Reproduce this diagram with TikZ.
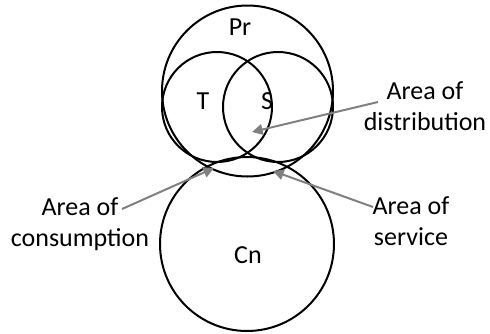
\documentclass[tikz,border=0pt]{standalone}
\usepackage{fontspec}
\setmainfont{Carlito}
\usetikzlibrary{arrows.meta}
\begin{document}
\begin{tikzpicture}[x=0.75pt,y=-0.75pt,
  ring/.style={circle,draw=black,line width=1.5pt,inner sep=0pt},
  lbl/.style={font=\fontsize{19.5pt}{23.4pt}\selectfont,inner sep=0pt},
  callout/.style={align=center,font=\fontsize{19.5pt}{23.4pt}\selectfont,inner sep=0pt},
  pointer/.style={draw=gray,line width=1.5pt,-{Triangle[length=8pt,width=8pt]},color=gray}]
\useasboundingbox (0,0) rectangle (490,333);
\node[ring,minimum size=128.25pt] (pr) at (247.5,91) {};
\node[ring,minimum size=82.5pt] (t) at (217,107) {};
\node[ring,minimum size=82.5pt] (s) at (278,107) {};
\node[ring,minimum size=130.5pt] (cn) at (247,244) {};
\node[lbl] (prl) at (240,27) {Pr};
\node[lbl] (tl) at (203,101) {T};
\node[lbl] (sl) at (267,101) {S};
\node[lbl] (cnl) at (248,255) {Cn};
\node[callout] (dist) at (425,106) {Area of\\distribution};
\node[callout] (serv) at (411,221) {Area of\\service};
\node[callout] (cons) at (80,224) {Area of\\consumption};
\coordinate (ds) at (378,102);
\coordinate (dt) at (252,132);
\coordinate (ss) at (373,207);
\coordinate (st) at (273,171);
\coordinate (cs) at (122,209);
\coordinate (ct) at (214,168);
\draw[pointer] (ds) -- (dt);
\draw[pointer] (ss) -- (st);
\draw[pointer] (cs) -- (ct);
\end{tikzpicture}
\end{document}
